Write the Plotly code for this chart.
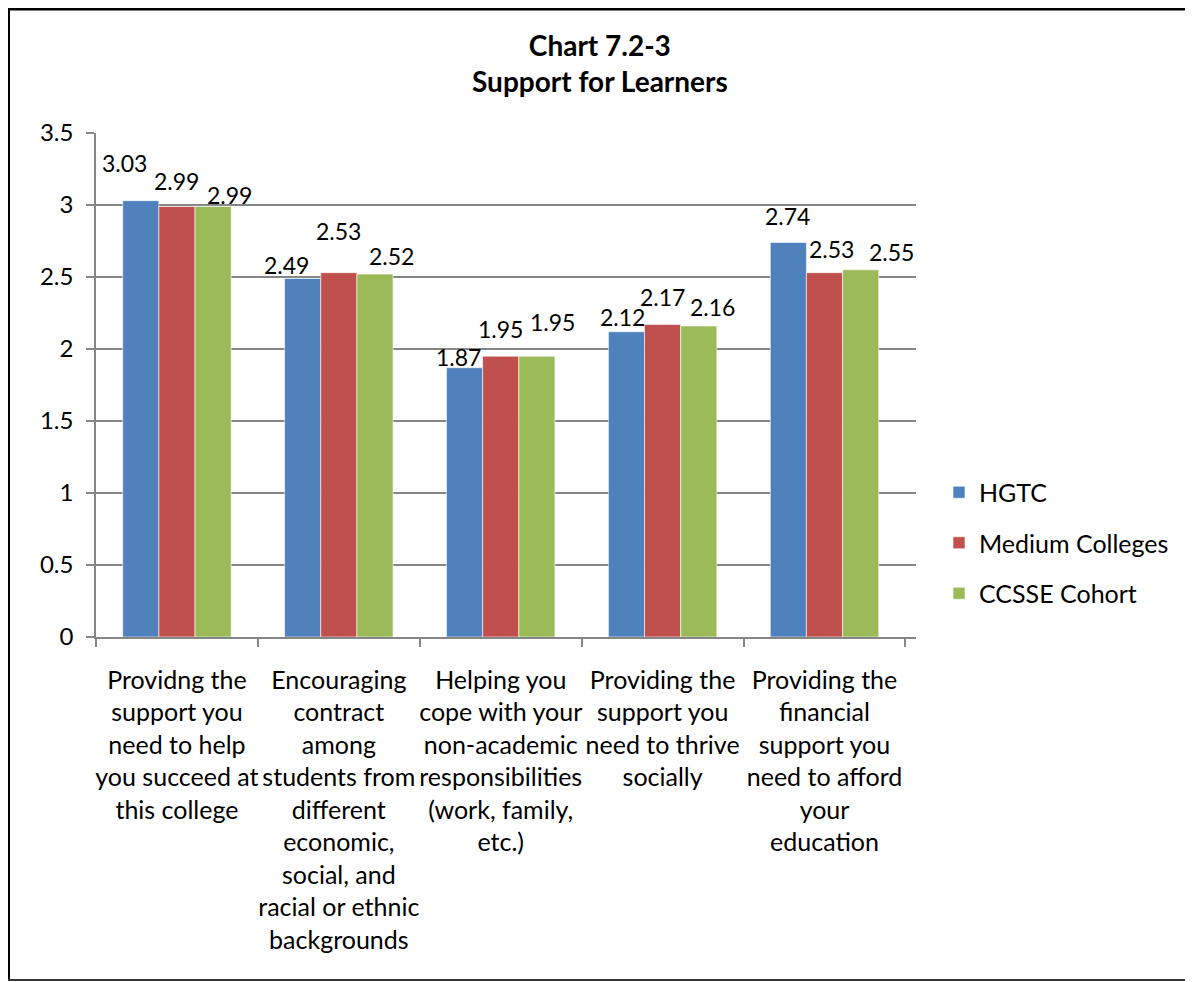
import plotly.graph_objects as go

categories = [
    "Providng the<br>support you<br>need to help<br>you succeed at<br>this college",
    "Encouraging<br>contract<br>among<br>students from<br>different<br>economic,<br>social, and<br>racial or ethnic<br>backgrounds",
    "Helping you<br>cope with your<br>non-academic<br>responsibilities<br>(work, family,<br>etc.)",
    "Providing the<br>support you<br>need to thrive<br>socially",
    "Providing the<br>financial<br>support you<br>need to afford<br>your<br>education",
]
series_names = ["HGTC", "Medium Colleges", "CCSSE Cohort"]
hgtc = [3.03, 2.49, 1.87, 2.12, 2.74]
medium = [2.99, 2.53, 1.95, 2.17, 2.53]
cohort = [2.99, 2.52, 1.95, 2.16, 2.55]
y_ticks = [0, 0.5, 1, 1.5, 2, 2.5, 3, 3.5]

# styling
colors = ["#4F81BD", "#C0504D", "#9BBB59"]
label_xshift = [
    [-52, -52, -42, -40, -37],
    [0, 0, 0, 0, 7],
    [53, 53, 52, 50, 67],
]
label_yshift = [
    [38, 13, 11, 15, 26],
    [25, 42, 27, 28, 24],
    [11, 18, 34, 19, 18],
]
FONT = "Lato, Carlito, Calibri, sans-serif"

OFF = 8  # page body margin
W, H = 1193 - OFF, 982 - OFF
L, T = 96 - OFF, 133 - OFF
pw, ph = 820, 504
R, B = W - L - pw, H - T - ph


def px_x(p):
    return (p - OFF - L) / pw


def px_y(p):
    return (T + ph - (p - OFF)) / ph


fig = go.Figure()
all_vals = [hgtc, medium, cohort]
for i, (name, vals) in enumerate(zip(series_names, all_vals)):
    fig.add_trace(go.Bar(
        x=categories, y=vals, name=name,
        marker=dict(color=colors[i], line=dict(color="rgba(255,255,255,0.6)", width=1)),
        legendgroup=name,
    ))
    for j, v in enumerate(vals):
        fig.add_annotation(
            x=categories[j], y=v, text=f"{v:.2f}", showarrow=False,
            xanchor="center", yanchor="middle",
            xshift=label_xshift[i][j], yshift=label_yshift[i][j],
            font=dict(family=FONT, size=23, color="#000"),
        )

fig.add_annotation(
    xref="paper", yref="paper",
    x=px_x(600), y=px_y(63),
    text="<b>Chart 7.2-3<br>Support for Learners</b>", showarrow=False,
    xanchor="center", yanchor="middle",
    font=dict(family=FONT, size=28, color="#000"),
)

# outer frame
fig.add_shape(type="line", xref="paper", yref="paper",
              x0=px_x(8), x1=px_x(8), y0=px_y(8), y1=px_y(981),
              line=dict(color="#000", width=4))
fig.add_shape(type="line", xref="paper", yref="paper",
              x0=px_x(7), x1=px_x(1192), y0=px_y(9), y1=px_y(9),
              line=dict(color="#000", width=3))
fig.add_shape(type="line", xref="paper", yref="paper",
              x0=px_x(1191), x1=px_x(1191), y0=px_y(8), y1=px_y(981),
              line=dict(color="#333", width=2))
fig.add_shape(type="line", xref="paper", yref="paper",
              x0=px_x(7), x1=px_x(1192), y0=px_y(980), y1=px_y(980),
              line=dict(color="#333", width=2))

fig.update_layout(
    width=W, height=H,
    margin=dict(l=L, r=R, t=T, b=B, autoexpand=False),
    paper_bgcolor="white", plot_bgcolor="white",
    barmode="group", bargap=0.33, bargroupgap=0,
    font=dict(family=FONT, size=22, color="#000"),
    showlegend=True,
    legend=dict(
        x=px_x(939), y=px_y(543), xanchor="left", yanchor="middle",
        font=dict(family=FONT, size=25, color="#000"),
        tracegroupgap=15, traceorder="grouped",
        bgcolor="rgba(0,0,0,0)",
    ),
)
fig.update_xaxes(
    type="category", showgrid=False,
    showline=True, linecolor="#868686", linewidth=1.5,
    ticks="outside", tickson="boundaries", ticklen=8, tickcolor="#868686", tickwidth=1.5,
    tickfont=dict(family=FONT, size=25, color="#000"),
    tickangle=0,
    ticklabelstandoff=20,
)
fig.update_yaxes(
    range=[0, 3.5], tickvals=y_ticks, ticktext=[f"{t:g}" for t in y_ticks],
    showgrid=True, gridcolor="#868686", gridwidth=1.5,
    showline=True, linecolor="#868686", linewidth=1.5,
    ticks="outside", ticklen=8, tickcolor="#868686", tickwidth=1.5,
    zeroline=False,
    tickfont=dict(family=FONT, size=24, color="#000"),
    ticklabelstandoff=8,
)

fig.write_html("out.html")
